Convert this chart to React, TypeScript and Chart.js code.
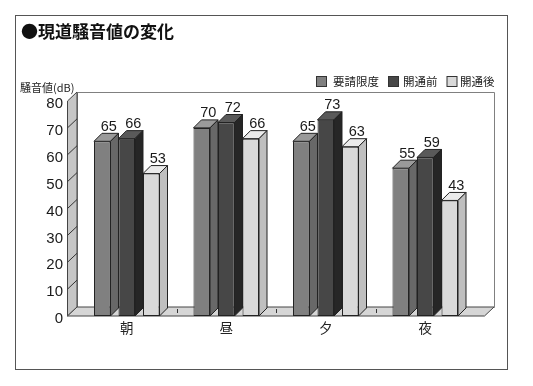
import React, { useEffect, useRef } from "react";
import { Chart, registerables } from "chart.js";

Chart.register(...registerables);

const categories = ["朝", "昼", "夕", "夜"];
const seriesNames = ["要請限度", "開通前", "開通後"];
const limitValues = [65, 70, 65, 55];
const beforeValues = [66, 72, 73, 59];
const afterValues = [53, 66, 63, 43];
const yMin = 0;
const yMax = 80;
const yStep = 10;

const titleText = "●現道騒音値の変化";
const yAxisTitle = "騒音値(dB)";

const frontColors = ["#808080", "#474747", "#d9d9d9"];
const topColors = ["#9a9a9a", "#5a5a5a", "#ebebeb"];
const sideColors = ["#686868", "#262626", "#bfbfbf"];

const FONT = '"Liberation Sans", "Noto Sans CJK JP", sans-serif';
const JFONT = '"Noto Sans CJK JP", sans-serif';

const BX = 8; // bar depth x
const BY = 8; // bar depth y
const WX = 9.5; // wall depth x
const WY = 9; // wall depth y

const pseudo3d = {
  id: "pseudo3d",
  beforeDatasetsDraw(chart: any) {
    const { ctx, chartArea: a, scales } = chart;
    const y = scales.y;
    const x = scales.x;
    const y0 = y.getPixelForValue(yMin);
    const yT = y.getPixelForValue(yMax);
    const fl = a.left - WX;
    const fr = a.right + WX;
    ctx.save();
    ctx.lineWidth = 1;
    // back wall
    ctx.fillStyle = "#ffffff";
    ctx.strokeStyle = "#808080";
    ctx.beginPath();
    ctx.rect(Math.round(a.left) + 0.5, Math.round(yT - WY) + 0.5, Math.round(fr + WX - a.left), Math.round(y0 - yT));
    ctx.fill();
    ctx.stroke();
    // left wall
    ctx.fillStyle = "#c6c6c6";
    ctx.strokeStyle = "#444";
    ctx.beginPath();
    ctx.moveTo(fl, y0);
    ctx.lineTo(fl, yT);
    ctx.lineTo(a.left, yT - WY);
    ctx.lineTo(a.left, y0 - WY);
    ctx.closePath();
    ctx.fill();
    ctx.stroke();
    // left wall ticks
    ctx.strokeStyle = "#333";
    for (let v = yMin + yStep; v < yMax; v += yStep) {
      const py = y.getPixelForValue(v);
      ctx.beginPath();
      ctx.moveTo(fl, py);
      ctx.lineTo(a.left, py - WY);
      ctx.stroke();
    }
    // floor
    ctx.fillStyle = "#d6d6d6";
    ctx.strokeStyle = "#444";
    ctx.beginPath();
    ctx.moveTo(fl, y0);
    ctx.lineTo(fr, y0);
    ctx.lineTo(fr + WX, y0 - WY);
    ctx.lineTo(a.left, y0 - WY);
    ctx.closePath();
    ctx.fill();
    ctx.stroke();
    // floor category dividers
    ctx.strokeStyle = "#333";
    for (let i = 1; i < categories.length; i++) {
      const px = (x.getPixelForValue(i - 1) + x.getPixelForValue(i)) / 2;
      ctx.beginPath();
      ctx.moveTo(Math.round(px) + 0.5, y0 - 7);
      ctx.lineTo(Math.round(px) + 0.5, y0 - 3);
      ctx.stroke();
    }
    ctx.restore();
  },
  afterDatasetsDraw(chart: any) {
    const { ctx } = chart;
    ctx.save();
    ctx.lineWidth = 1;
    ctx.strokeStyle = "#222";
    chart.data.datasets.forEach((ds: any, di: number) => {
      const meta = chart.getDatasetMeta(di);
      meta.data.forEach((bar: any, i: number) => {
        const p = bar.getProps(["x", "y", "width", "base"], true);
        const l = p.x - p.width / 2;
        const r = p.x + p.width / 2;
        const t = p.y;
        const b = p.base;
        // top face
        ctx.fillStyle = topColors[di];
        ctx.beginPath();
        ctx.moveTo(l, t);
        ctx.lineTo(r, t);
        ctx.lineTo(r + BX, t - BY);
        ctx.lineTo(l + BX, t - BY);
        ctx.closePath();
        ctx.fill();
        ctx.stroke();
        // side face
        ctx.fillStyle = sideColors[di];
        ctx.beginPath();
        ctx.moveTo(r, t);
        ctx.lineTo(r + BX, t - BY);
        ctx.lineTo(r + BX, b - BY);
        ctx.lineTo(r, b);
        ctx.closePath();
        ctx.fill();
        ctx.stroke();
        // value label
        const v = ds.data[i];
        ctx.fillStyle = "#1a1a1a";
        ctx.font = "14.5px " + FONT;
        ctx.textAlign = "center";
        ctx.textBaseline = "alphabetic";
        ctx.fillText(String(v), p.x + 6.5, t - 10.5);
      });
    });
    ctx.restore();
  },
  afterDraw(chart: any) {
    const { ctx } = chart;
    ctx.save();
    // outer frame
    ctx.strokeStyle = "#555";
    ctx.lineWidth = 1;
    ctx.strokeRect(15.5, 15.5, 492, 354);
    // title
    ctx.fillStyle = "#111";
    ctx.font = "bold 17px " + JFONT;
    ctx.textAlign = "left";
    ctx.textBaseline = "middle";
    ctx.fillText(titleText, 21, 32);
    // y axis title
    ctx.font = "11px " + JFONT;
    ctx.fillStyle = "#222";
    ctx.fillText(yAxisTitle, 20, 87.5);
    // legend
    const boxX = [316, 388, 446.5];
    const textX = [333, 403, 460];
    ctx.font = "11.5px " + JFONT;
    seriesNames.forEach((name, i) => {
      ctx.fillStyle = frontColors[i];
      ctx.strokeStyle = "#333";
      ctx.fillRect(boxX[i] + 0.5, 76.5, 10, 10);
      ctx.strokeRect(boxX[i] + 0.5, 76.5, 10, 10);
      ctx.fillStyle = "#222";
      ctx.fillText(name, textX[i], 81.5);
    });
    ctx.restore();
  },
};

export default function App() {
  const ref = useRef<HTMLCanvasElement | null>(null);
  useEffect(() => {
    if (!ref.current) return;
    const chart = new Chart(ref.current, {
      type: "bar",
      data: {
        labels: categories,
        datasets: [limitValues, beforeValues, afterValues].map((d, i) => ({
          label: seriesNames[i],
          data: d,
          backgroundColor: frontColors[i],
          borderColor: "#222",
          borderWidth: 1,
          borderSkipped: false,
          categoryPercentage: 0.739,
          barPercentage: 0.673,
        })),
      },
      options: {
        responsive: false,
        animation: false,
        layout: { padding: { top: 101, right: 58, left: 0, bottom: 0 } },
        plugins: {
          legend: { display: false },
          title: { display: false },
          tooltip: { enabled: false },
        },
        scales: {
          x: {
            grid: { display: false, drawTicks: false },
            border: { display: false },
            ticks: {
              color: "#222",
              font: { family: JFONT, size: 13.5 },
              padding: 4,
            },
            afterFit: (s: any) => {
              s.height = 70;
            },
          },
          y: {
            min: yMin,
            max: yMax,
            grid: { display: false, drawTicks: false },
            border: { display: false },
            ticks: {
              stepSize: yStep,
              color: "#1a1a1a",
              font: { family: FONT, size: 15 },
              padding: 14,
              labelOffset: 3,
            },
            afterFit: (s: any) => {
              s.width = 77;
            },
          },
        },
      },
      plugins: [pseudo3d],
    });
    return () => chart.destroy();
  }, []);
  return (
    <div style={{ position: "fixed", left: 0, top: 0, width: 533, height: 386, background: "#fff" }}>
      <canvas ref={ref} width={533} height={386} style={{ width: 533, height: 386, display: "block" }} />
    </div>
  );
}
